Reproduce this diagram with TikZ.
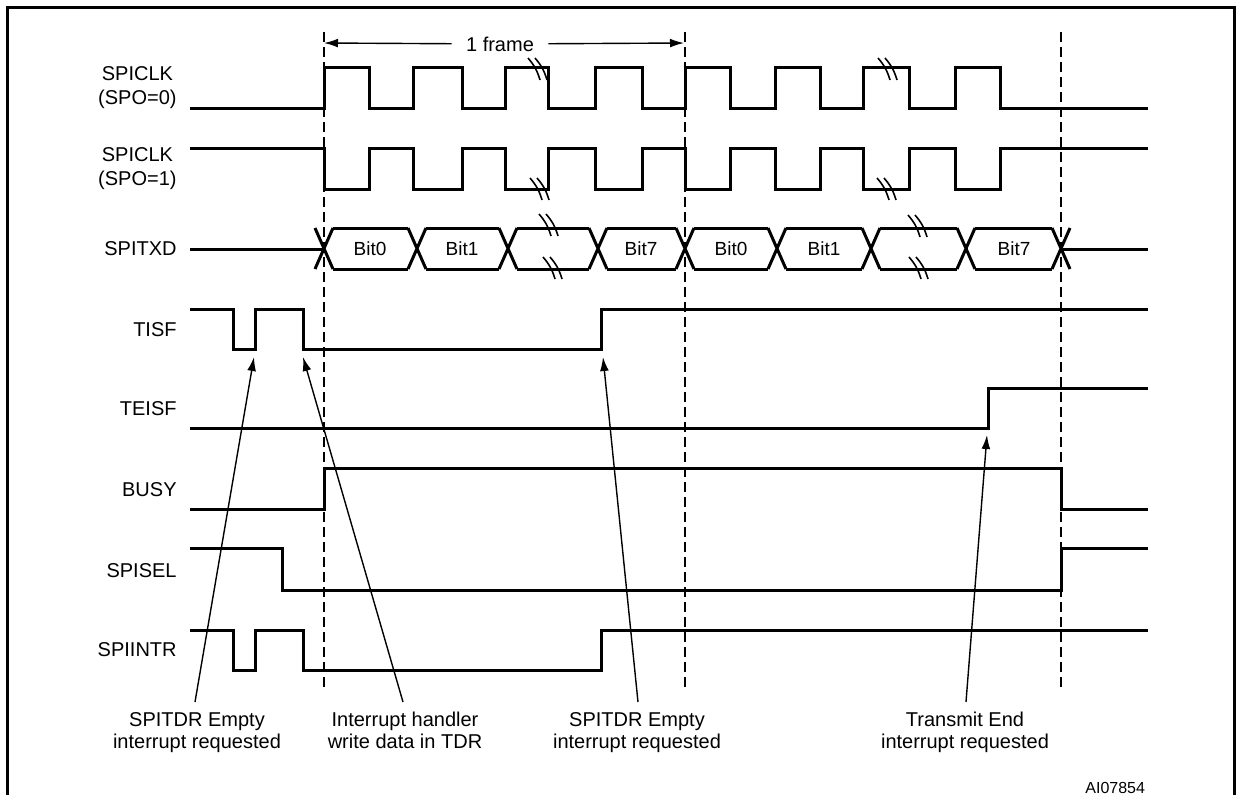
\documentclass[tikz,border=0pt]{standalone}
\usepackage{fontspec}
\setmainfont{Liberation Sans}
\usetikzlibrary{positioning,arrows.meta}

% two short slanted strokes that mark a cut in a wave
\newcommand{\wavebreak}[2]{%
  \draw[brk] (#1-9,#2-11) to[bend left=12] (#1+3,#2+11);
  \draw[brk] (#1-2,#2-11) to[bend left=12] (#1+10,#2+11);}

\begin{document}
\begin{tikzpicture}[x=0.5pt,y=-0.5pt,>={Latex[length=7pt,width=4.4pt]},
    wave/.style={line width=1.5pt},
    brk/.style={line width=0.8pt},
    marker/.style={line width=0.8pt,dash pattern=on 5pt off 2.5pt},
    pointer/.style={->,line width=0.7pt},
    siglabel/.style={anchor=east,align=center,font=\fontsize{10}{12}\selectfont,inner sep=0pt},
    bitlabel/.style={font=\fontsize{9.5}{11}\selectfont,inner sep=0pt},
    note/.style={anchor=north,align=center,font=\fontsize{10}{11}\selectfont,inner sep=0pt}]
    \useasboundingbox (0,0) rectangle (1239,794);
    \begin{scope}
        \clip (0,0) rectangle (1239,794);
        \draw[line width=1.5pt] (7,7) rectangle (1234,820);
    \end{scope}

    % frame boundaries
    \foreach \x in {324,685,1061}
        \draw[marker] (\x,32) -- (\x,688);
    \coordinate (fl) at (324,43);
    \coordinate (fr) at (684,43);
    \node[font=\fontsize{10}{12}\selectfont,inner xsep=7pt,inner ysep=0pt] (ftxt) at (500,44) {1 frame};
    \draw[pointer] (ftxt) -- (fl);
    \draw[pointer] (ftxt) -- (fr);

    % signal names
    \node[siglabel] (clka) at (177,88) {SPICLK\\(SPO=0)};
    \node[siglabel] (clkb) at (177,169) {SPICLK\\(SPO=1)};
    \node[siglabel] (txd) at (177,249) {SPITXD};
    \node[siglabel] (tisf) at (177,330) {TISF};
    \node[siglabel] (teisf) at (177,409) {TEISF};
    \node[siglabel] (busy) at (177,490) {BUSY};
    \node[siglabel] (sel) at (177,571) {SPISEL};
    \node[siglabel] (intr) at (177,650) {SPIINTR};

    % clocks
    \draw[wave] (190,108) foreach \r/\f in {324/369,413/462,505/548,595/642,685/730,775/820,863/909,955/1000}
        { -- (\r,108) -- (\r,67) -- (\f,67) -- (\f,108) } -- (1148,108);
    \draw[wave] (190,148) foreach \r/\f in {324/369,413/462,505/548,595/642,685/730,775/820,863/909,955/1000}
        { -- (\r,148) -- (\r,189) -- (\f,189) -- (\f,148) } -- (1148,148);
    \wavebreak{537}{69}
    \wavebreak{887}{69}
    \wavebreak{539}{189}
    \wavebreak{886}{189}

    % data bus
    \draw[wave] (190,249) -- (324,249);
    \draw[wave] (1061,249) -- (1148,249);
    \foreach \x in {324,417,508,598,685,777,871,966,1061}
        \draw[wave] (\x-9,228) -- (\x+9,269) (\x-9,269) -- (\x+9,228);
    \foreach \a/\b in {324/417,417/508,508/598,598/685,685/777,777/871,871/966,966/1061}
        \draw[wave] (\a+9,228) -- (\b-9,228) (\a+9,269) -- (\b-9,269);
    \node[bitlabel] (fa0) at (370,249) {Bit0};
    \node[bitlabel] (fa1) at (462,249) {Bit1};
    \node[bitlabel] (fa7) at (641,249) {Bit7};
    \node[bitlabel] (fb0) at (731,249) {Bit0};
    \node[bitlabel] (fb1) at (824,249) {Bit1};
    \node[bitlabel] (fb7) at (1014,249) {Bit7};
    \wavebreak{548}{225}
    \wavebreak{552}{268}
    \wavebreak{917}{226}
    \wavebreak{918}{268}

    % flags
    \draw[wave] (190,309) -- (233,309) -- (233,349) -- (255,349) -- (255,309) -- (303,309)
        -- (303,349) -- (601,349) -- (601,309) -- (1148,309);
    \draw[wave] (190,428) -- (988,428) -- (988,388) -- (1148,388);
    \draw[wave] (190,509) -- (324,509) -- (324,468) -- (1061,468) -- (1061,509) -- (1148,509);
    \draw[wave] (190,548) -- (282,548) -- (282,590) -- (1061,590) -- (1061,548) -- (1148,548);
    \draw[wave] (190,630) -- (233,630) -- (233,670) -- (255,670) -- (255,630) -- (303,630)
        -- (303,670) -- (601,670) -- (601,630) -- (1148,630);

    % events
    \coordinate (ev1) at (254,357);
    \coordinate (ev2) at (303,357);
    \coordinate (ev3) at (603,357);
    \coordinate (ev4) at (987,435);
    \node[note] (n1) at (197,712) {SPITDR Empty\\interrupt requested};
    \node[note] (n2) at (405,712) {Interrupt handler\\write data in TDR};
    \node[note] (n3) at (637,712) {SPITDR Empty\\interrupt requested};
    \node[note] (n4) at (965,712) {Transmit End\\interrupt requested};
    \draw[pointer] ([shift={(-2,-10)}]n1.north) -- (ev1);
    \draw[pointer] ([shift={(-2,-10)}]n2.north) -- (ev2);
    \draw[pointer] ([shift={(1,-10)}]n3.north) -- (ev3);
    \draw[pointer] ([shift={(1,-10)}]n4.north) -- (ev4);

    \node[anchor=base west,font=\fontsize{8}{10}\selectfont,inner sep=0pt] (ref) at (1085,793) {AI07854};
\end{tikzpicture}
\end{document}
